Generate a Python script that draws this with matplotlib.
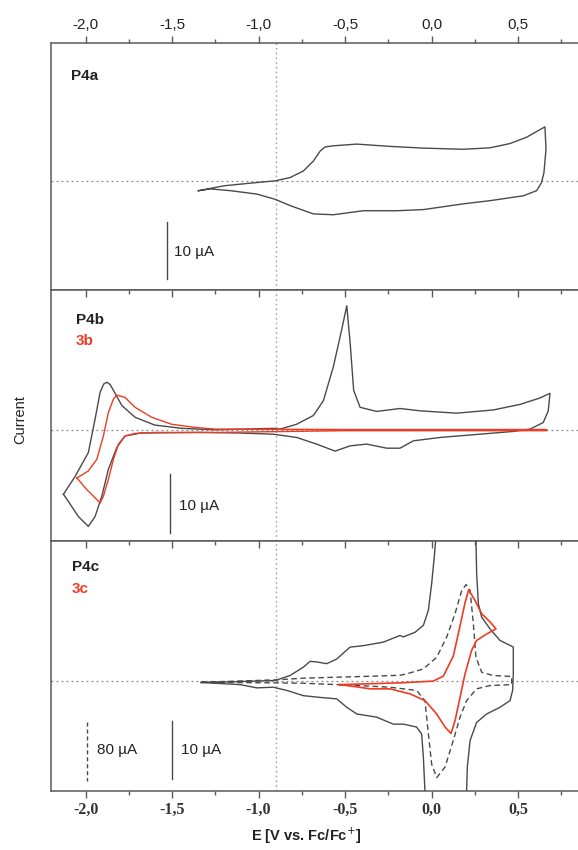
import matplotlib
matplotlib.use("Agg")
import matplotlib.pyplot as plt
from matplotlib.ticker import MultipleLocator, FixedFormatter

# ---- data (E in V vs Fc/Fc+, current in uA) ----
# P4a
e_4a = [-1.348, -1.20, -1.01, -0.905, -0.818, -0.741, -0.683, -0.644, -0.616, -0.568,
        -0.432, -0.24, -0.047, 0.184, 0.338, 0.454, 0.55, 0.608, 0.656,
        0.662, 0.65, 0.636, 0.608, 0.531, 0.338, 0.184, -0.047, -0.2, -0.394,
        -0.568, -0.683, -0.818, -0.905, -1.01, -1.165, -1.28, -1.348]
i_4a = [-1.72, -0.86, -0.29, 0.0, 0.57, 1.72, 3.45, 5.17, 5.9, 6.1,
        6.4, 6.0, 5.7, 5.5, 5.75, 6.5, 7.6, 8.6, 9.4,
        5.5, 1.4, -0.3, -1.7, -2.6, -3.45, -4.0, -5.0, -5.2, -5.2,
        -5.9, -5.75, -4.3, -3.2, -2.3, -1.7, -1.4, -1.72]

# P4b
e_4b = [-2.128, -2.06, -1.984, -1.945, -1.916, -1.895, -1.877, -1.858, -1.839, -1.79,
        -1.714, -1.6, -1.445, -1.25, -0.915, -0.876, -0.78, -0.683, -0.625, -0.568,
        -0.52, -0.49, -0.47, -0.45, -0.413, -0.317, -0.182, -0.066, 0.146, 0.357, 0.512,
        0.627, 0.685, 0.675, 0.646, 0.57, 0.473, 0.28, 0.05, -0.105, -0.182, -0.259,
        -0.375, -0.47, -0.558, -0.664, -0.78, -0.876, -0.915, -1.107, -1.338, -1.685,
        -1.714, -1.772, -1.82, -1.868, -1.906, -1.945, -1.984, -2.042, -2.1, -2.128]
i_4b = [-11.0, -7.9, -3.85, 1.9, 6.5, 7.9, 8.2, 7.8, 6.8, 4.2,
        2.2, 0.86, 0.3, 0.05, 0.3, 0.17, 1.0, 2.5, 5.05, 10.8,
        17.1, 21.3, 14.8, 6.8, 3.9, 3.2, 3.7, 3.3, 2.9, 3.45, 4.4,
        5.5, 6.3, 3.3, 1.3, 0.17, -0.23, -0.7, -1.26, -1.84, -3.1, -3.1,
        -2.4, -2.7, -3.6, -2.4, -1.26, -0.86, -0.7, -0.5, -0.4, -0.5,
        -0.7, -1.0, -3.0, -6.7, -11.3, -14.8, -16.5, -14.8, -12.2, -11.0]

# 3b
e_3b = [-2.05, -1.984, -1.935, -1.897, -1.868, -1.839, -1.82, -1.772, -1.714, -1.618,
        -1.503, -1.368, -1.25, -0.5, 0.0, 0.666, 0.666, 0.0, -0.5, -1.25, -1.6,
        -1.714, -1.772, -1.81, -1.839, -1.868, -1.897, -1.916, -1.945, -1.993, -2.05]
i_3b = [-8.2, -7.0, -5.0, -1.0, 3.05, 5.3, 6.0, 5.6, 3.9, 2.2,
        1.0, 0.46, 0.17, 0.1, 0.1, 0.1, -0.1, -0.1, -0.1, -0.4, -0.4,
        -0.57, -1.0, -2.4, -5.0, -8.4, -11.3, -12.5, -11.6, -10.2, -8.2]

# P4c (solid, 10 uA scale)
e_4c = [-1.332, -1.107, -0.905, -0.818, -0.741, -0.702, -0.664, -0.606, -0.548, -0.471,
        -0.394, -0.279, -0.182, -0.163, -0.095, -0.047, -0.018, 0.001, 0.016, 0.024, 0.035,
        0.25, 0.257, 0.261, 0.271, 0.29, 0.338, 0.396, 0.464, 0.473,
        0.473, 0.469, 0.454, 0.396, 0.319, 0.261, 0.223, 0.207, 0.203, 0.195,
        -0.03, -0.038, -0.047, -0.057, -0.086, -0.163, -0.221, -0.317, -0.432, -0.49,
        -0.548, -0.645, -0.741, -0.837, -0.915, -1.01, -1.107, -1.332]
i_4c = [-0.34, -0.17, 0.0, 0.86, 2.3, 3.3, 3.2, 2.9, 3.7, 5.75,
        6.0, 6.6, 7.75, 7.5, 8.3, 9.5, 12.1, 16.7, 21.3, 24.1, 40.0,
        40.0, 24.1, 18.4, 13.2, 10.9, 8.9, 6.9, 5.9, 5.75,
        1.15, -1.7, -3.45, -4.6, -5.75, -7.2, -10.3, -14.9, -19.0, -35.0,
        -35.0, -19.0, -13.2, -9.2, -8.0, -7.5, -7.5, -6.3, -5.75, -4.6,
        -3.15, -2.9, -2.6, -1.7, -1.15, -1.26, -0.7, -0.34]

# P4c (dashed, 80 uA scale)
e_4c_d = [-1.332, -0.895, -0.741, -0.548, -0.355, -0.182, -0.143, -0.047, 0.03, 0.088,
          0.136, 0.175, 0.2, 0.223, 0.242, 0.257, 0.29, 0.357, 0.464,
          0.464, 0.338, 0.261, 0.203, 0.165, 0.126, 0.078, 0.03, 0.001, -0.018,
          -0.038, -0.086, -0.24, -0.355, -0.548, -0.741, -0.895, -1.332]
i_4c_d = [-2.4, 1.0, 3.2, 4.6, 5.9, 7.2, 9.2, 16.0, 32.0, 60.0,
          92.0, 124.0, 132.0, 124.0, 78.0, 32.0, 11.4, 6.9, 5.6,
          -5.6, -6.9, -11.4, -27.6, -50.4, -82.4, -119.2, -133.6, -115.2, -73.6,
          -27.6, -13.6, -9.2, -7.8, -5.6, -3.7, -3.2, -2.4]

# 3c
e_3c = [-0.533, -0.375, -0.182, 0.01, 0.068, 0.126, 0.165, 0.194, 0.215, 0.251,
        0.29, 0.338, 0.373, 0.319, 0.261, 0.232, 0.194, 0.165, 0.136, 0.113,
        0.078, 0.03, -0.038, -0.124, -0.24, -0.355, -0.452, -0.533]
i_3c = [-0.7, -0.57, -0.4, -0.1, 0.74, 4.2, 9.4, 13.4, 15.6, 13.8,
        11.5, 10.1, 8.9, 8.0, 6.9, 5.2, 1.15, -2.9, -6.9, -9.1,
        -8.0, -5.75, -3.45, -2.3, -1.43, -1.43, -1.0, -0.7]

E_ticks = [-2.0, -1.5, -1.0, -0.5, 0.0, 0.5]
E_labels = ["-2,0", "-1,5", "-1,0", "-0,5", "0,0", "0,5"]
E_ref = -0.9

BLACK = "#4a4a4a"
RED = "#ee3b24"
SANS = "Liberation Sans"

fig = plt.figure(figsize=(5.78, 8.5), dpi=100)
left = 51 / 578
width = 1 - left
pos = [(850 - 290) / 850, (850 - 541) / 850, 59 / 850]
hts = [247 / 850, 251 / 850, 250 / 850]
axes = [fig.add_axes([left, b, width, h]) for b, h in zip(pos, hts)]

for ax in axes:
    ax.set_xlim(-2.2, 0.847)
    ax.set_ylim(-19, 24)
    ax.spines["right"].set_visible(False)
    for s in ["left", "top", "bottom"]:
        ax.spines[s].set_color("#5a5a5a")
        ax.spines[s].set_linewidth(1.1)
    ax.set_yticks([])
    ax.xaxis.set_major_locator(MultipleLocator(0.5))
    ax.xaxis.set_minor_locator(MultipleLocator(0.25))
    ax.axhline(0, color="#888888", lw=0.9, ls=(0, (1.5, 2.5)), zorder=1)
    ax.axvline(E_ref, color="#9a9ad8", lw=1.0, ls=(0, (1.2, 2.2)), zorder=1)

# tick styling
ax1, ax2, ax3 = axes
ax1.tick_params(axis="x", which="both", top=True, bottom=False, labeltop=True,
                labelbottom=False, direction="out", color="#5a5a5a")
ax1.tick_params(axis="x", which="major", length=5, width=1, labelsize=11, pad=3)
ax1.tick_params(axis="x", which="minor", length=3, width=1)
ax1.set_xticks(E_ticks)
ax1.xaxis.set_major_formatter(FixedFormatter(E_labels))
for t in ax1.get_xticklabels():
    t.set_fontfamily(SANS)
    t.set_color("#222222")

ax2.tick_params(axis="x", which="both", top=True, bottom=False, labeltop=False,
                labelbottom=False, direction="in", color="#5a5a5a")
ax2.tick_params(axis="x", which="major", length=5, width=1)
ax2.tick_params(axis="x", which="minor", length=3, width=1)

ax3.tick_params(axis="x", which="both", top=True, bottom=True, labeltop=False,
                labelbottom=True, direction="in", color="#5a5a5a")
ax3.tick_params(axis="x", which="major", length=5, width=1, labelsize=11.5, pad=8)
ax3.tick_params(axis="x", which="minor", length=3, width=1)
ax3.set_xticks(E_ticks)
ax3.xaxis.set_major_formatter(FixedFormatter(E_labels))
for t in ax3.get_xticklabels():
    t.set_fontfamily("Liberation Serif")
    t.set_fontweight("bold")
    t.set_color("#333333")
for tk in ax3.xaxis.get_major_ticks() + ax3.xaxis.get_minor_ticks():
    tk.tick1line.set_marker(3)  # bottom ticks point outward (down)

# curves
ax1.plot(e_4a, i_4a, color=BLACK, lw=1.0, zorder=3)
ax2.plot(e_4b, i_4b, color=BLACK, lw=1.0, zorder=3)
ax2.plot(e_3b, i_3b, color=RED, lw=1.0, zorder=4)
ax3.plot(e_4c, i_4c, color=BLACK, lw=1.0, zorder=3)
ax3.plot(e_4c_d, [v * 10 / 80 for v in i_4c_d], color=BLACK, lw=1.0,
         ls=(0, (4, 2.5)), zorder=3)
ax3.plot(e_3c, i_3c, color=RED, lw=1.2, zorder=4)

# labels inside panels
FS = 11
ax1.text(-2.085, 18.3, "P4a", fontfamily=SANS, fontweight="bold", fontsize=FS,
         color="#222222", va="center")
ax2.text(-2.055, 18.8, "P4b", fontfamily=SANS, fontweight="bold", fontsize=FS,
         color="#222222", va="center")
ax2.text(-2.055, 15.3, "3b", fontfamily=SANS, fontweight="bold", fontsize=FS,
         color=RED, va="center")
ax3.text(-2.08, 19.5, "P4c", fontfamily=SANS, fontweight="bold", fontsize=FS,
         color="#222222", va="center")
ax3.text(-2.08, 15.7, "3c", fontfamily=SANS, fontweight="bold", fontsize=FS,
         color=RED, va="center")

# scale bars
ax1.plot([-1.53, -1.53], [-7.1, -17.1], color=BLACK, lw=1.0)
ax1.text(-1.49, -12.4, "10 \u00b5A", fontfamily=SANS, fontsize=FS,
         color="#222222", va="center")
ax2.plot([-1.51, -1.51], [-7.6, -17.6], color=BLACK, lw=1.0)
ax2.text(-1.46, -13.0, "10 \u00b5A", fontfamily=SANS, fontsize=FS,
         color="#222222", va="center")
ax3.plot([-1.50, -1.50], [-6.9, -16.9], color=BLACK, lw=1.0)
ax3.text(-1.45, -11.9, "10 \u00b5A", fontfamily=SANS, fontsize=FS,
         color="#222222", va="center")
ax3.plot([-1.99, -1.99], [-7.2, -17.2], color=BLACK, lw=1.0, ls=(0, (3, 2)))
ax3.text(-1.935, -11.9, "80 \u00b5A", fontfamily=SANS, fontsize=FS,
         color="#222222", va="center")

fig.text(20 / 578, 1 - 420 / 850, "Current", rotation=90, fontfamily=SANS,
         fontsize=10.5, ha="center", va="center", color="#222222")
fig.text(306 / 578, 1 - 836 / 850, "E [V vs. Fc/Fc$^{+}$]", fontfamily=SANS,
         fontweight="bold", fontsize=10.5, ha="center", va="center", color="#222222")

fig.savefig("out.png", dpi=100)
